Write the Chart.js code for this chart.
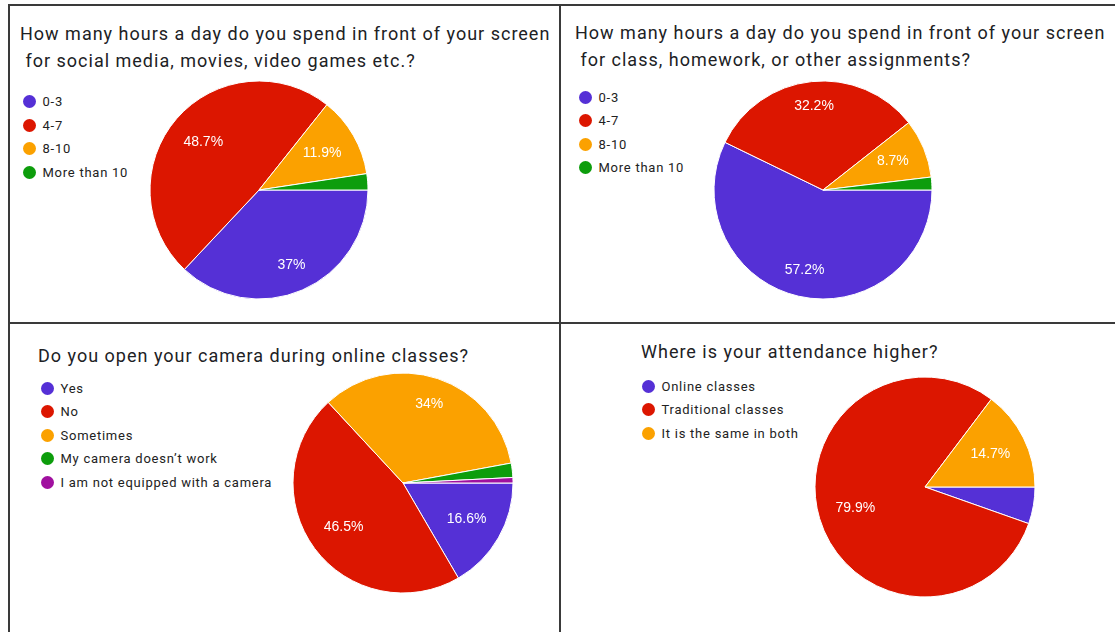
<!DOCTYPE html>
<html>
<head>
<meta charset="utf-8">
<script src="https://cdn.jsdelivr.net/npm/chart.js@4.4.1/dist/chart.umd.min.js"></script>
<style>
  body { margin: 0; background: #fff; width: 1115px; height: 632px; overflow: hidden; position: relative; font-family: Roboto, Arial, sans-serif; }
  .rule { position: absolute; background: #3a3a3a; }
  .title { position: absolute; font-size: 18px; letter-spacing: 1px; line-height: 27px; color: #202124; white-space: pre; }
  .item { position: absolute; height: 24px; display: flex; align-items: center; font-size: 13px; letter-spacing: 0.75px; color: #222; white-space: nowrap; }
  .dot { width: 13px; height: 13px; border-radius: 50%; margin-right: 7px; flex: none; }
  canvas { position: absolute; }
</style>
</head>
<body>
<div class="rule" style="left:8px;top:4px;width:1107px;height:2px"></div>
<div class="rule" style="left:8px;top:4px;width:2px;height:628px"></div>
<div class="rule" style="left:559px;top:4px;width:2px;height:628px"></div>
<div class="rule" style="left:8px;top:322px;width:1107px;height:2px"></div>

<script>
// survey answers, in percent
const hourLabels = ['0-3', '4-7', '8-10', 'More than 10'];
const leisureHours = [37, 48.7, 11.9, 2.4];
const schoolHours = [57.2, 32.2, 8.7, 1.9];

const cameraLabels = ['Yes', 'No', 'Sometimes', 'My camera doesn’t work', 'I am not equipped with a camera'];
const cameraAnswers = [16.6, 46.5, 34, 2.1, 0.8];

const attendanceLabels = ['Online classes', 'Traditional classes', 'It is the same in both'];
const attendanceAnswers = [5.4, 79.9, 14.7];

const sliceColors = ['#5530d6', '#dc1600', '#fba100', '#0d9d0c', '#a0109f'];

const panels = [
  {
    title: ['How many hours a day do you spend in front of your screen', ' for social media, movies, video games etc.?'],
    titleX: 20, titleY: 33,
    labels: hourLabels, values: leisureHours,
    legendX: 29, legendY: 101.5,
    cx: 259, cy: 190, r: 109
  },
  {
    title: ['How many hours a day do you spend in front of your screen', ' for class, homework, or other assignments?'],
    titleX: 575, titleY: 32,
    labels: hourLabels, values: schoolHours,
    legendX: 585, legendY: 97,
    cx: 823, cy: 190, r: 109
  },
  {
    title: ['Do you open your camera during online classes?'],
    titleX: 38, titleY: 355,
    labels: cameraLabels, values: cameraAnswers,
    legendX: 47, legendY: 388,
    cx: 403, cy: 483, r: 110
  },
  {
    title: ['Where is your attendance higher?'],
    titleX: 641, titleY: 351,
    labels: attendanceLabels, values: attendanceAnswers,
    legendX: 648, legendY: 386,
    cx: 925, cy: 487, r: 110
  }
];

// white percentage text inside each slice, pushed out until its far corner sits near the rim
const sliceLabels = {
  id: 'sliceLabels',
  afterDatasetsDraw(chart) {
    const ctx = chart.ctx;
    const values = chart.data.datasets[0].data;
    ctx.save();
    ctx.font = '14px Arial, "Liberation Sans", sans-serif';
    ctx.fillStyle = '#fff';
    ctx.textAlign = 'center';
    ctx.textBaseline = 'middle';
    chart.getDatasetMeta(0).data.forEach((arc, i) => {
      if (values[i] < 6) return;
      const {x, y, startAngle, endAngle, outerRadius} = arc.getProps(['x', 'y', 'startAngle', 'endAngle', 'outerRadius'], true);
      const mid = (startAngle + endAngle) / 2;
      const text = values[i] + '%';
      const hw = ctx.measureText(text).width / 2;
      const hh = 6;
      const dx = Math.cos(mid), dy = Math.sin(mid);
      const d = outerRadius * 0.85 - (hw * Math.abs(dx) + hh * Math.abs(dy));
      ctx.fillText(text, x + dx * d, y + dy * d);
    });
    ctx.restore();
  }
};

panels.forEach((p, n) => {
  p.title.forEach((line, k) => {
    const t = document.createElement('div');
    t.className = 'title';
    t.textContent = line;
    t.style.left = p.titleX + 'px';
    t.style.top = (p.titleY - 13.5 + k * 27) + 'px';
    document.body.appendChild(t);
  });

  p.labels.forEach((label, i) => {
    const row = document.createElement('div');
    row.className = 'item';
    row.style.left = (p.legendX - 6.5) + 'px';
    row.style.top = (p.legendY - 12 + i * 23.5) + 'px';
    const dot = document.createElement('span');
    dot.className = 'dot';
    dot.style.background = sliceColors[i];
    row.appendChild(dot);
    row.appendChild(document.createTextNode(label));
    document.body.appendChild(row);
  });

  const size = 2 * p.r + 8;
  const canvas = document.createElement('canvas');
  canvas.id = 'pie-' + n;
  canvas.width = size;
  canvas.height = size;
  canvas.style.left = (p.cx - size / 2) + 'px';
  canvas.style.top = (p.cy - size / 2) + 'px';
  document.body.appendChild(canvas);

  new Chart(canvas, {
    type: 'pie',
    data: {
      labels: p.labels,
      datasets: [{
        data: p.values,
        backgroundColor: sliceColors.slice(0, p.values.length),
        borderColor: '#fff',
        borderWidth: 1
      }]
    },
    options: {
      responsive: false,
      animation: false,
      rotation: 90,
      radius: p.r,
      layout: { padding: 0 },
      plugins: {
        legend: { display: false },
        tooltip: { enabled: false }
      }
    },
    plugins: [sliceLabels]
  });
});
</script>
</body>
</html>
